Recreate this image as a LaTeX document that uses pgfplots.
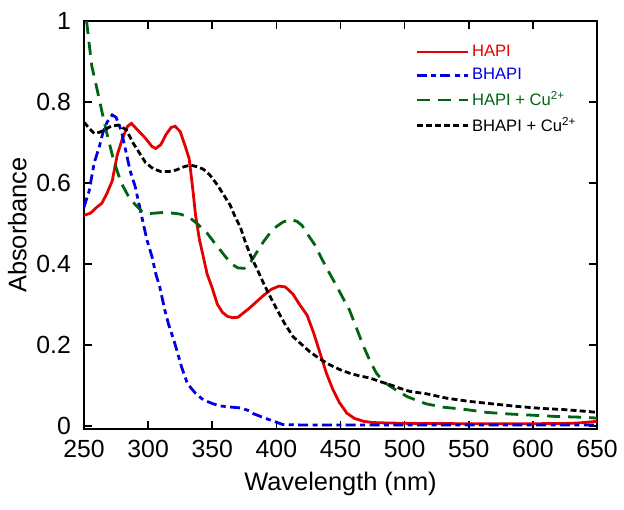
\documentclass[border=0pt]{standalone}
\usepackage{fontspec}
\setmainfont{Liberation Sans}
\usepackage{pgfplots}
\pgfplotsset{compat=1.18}
\definecolor{cred}{RGB}{228,0,0}
\definecolor{cblue}{RGB}{0,0,225}
\definecolor{cgreen}{RGB}{0,100,20}
\begin{document}
\begin{tikzpicture}
\begin{axis}[
  name=ax,
  width=256.5pt, height=204pt, scale only axis,
  xmin=250, xmax=650, ymin=-0.008, ymax=1,
  xtick={250,300,350,400,450,500,550,600,650},
  ytick={0,0.2,0.4,0.6,0.8,1},
  yticklabels={0,0.2,0.4,0.6,0.8,1},
  tick align=inside, major tick length=4pt,
  axis line style={line width=0.8pt},
  every tick/.style={black, line width=0.8pt},
  tick label style={font=\fontsize{12.4}{14}\selectfont},
  /pgf/number format/assume math mode=true,
  xticklabel style={yshift=-2pt},
  yticklabel style={xshift=-3pt},
  xlabel={Wavelength (nm)},
  ylabel={Absorbance},
  label style={font=\fontsize{12.7}{14}\selectfont},
  xlabel style={at={(axis description cs:0.5,0)}, anchor=center, yshift=-27.5pt},
  ylabel style={at={(axis description cs:-0.13,0.5)}, anchor=center},
  legend style={at={(rel axis cs:0.645,0.95)}, anchor=north west, draw=none, fill=none,
    inner sep=0pt, font=\fontsize{8.3}{9}\selectfont, row sep=1.5pt,
    nodes={inner sep=1.5pt}},
  legend cell align=left,
  legend image code/.code={\draw[#1] (0pt,0pt) -- (25.5pt,0pt);},
]
\addplot[cred, line width=1.4pt] coordinates {
(250,0.52)(255,0.525)(260,0.54)(264,0.55)(268,0.575)(272,0.605)(276,0.67)(280,0.71)(284,0.74)(287,0.747)(292,0.73)(298,0.71)(303,0.69)(306,0.685)(310,0.695)(314,0.72)(318,0.737)(321,0.74)(325,0.727)(329,0.69)(332,0.66)(335,0.58)(337,0.52)(340,0.46)(343,0.418)(346,0.375)(350,0.34)(354,0.3)(358,0.28)(362,0.27)(366,0.267)(370,0.268)(374,0.278)(378,0.288)(384,0.305)(390,0.322)(396,0.337)(402,0.345)(407,0.343)(413,0.325)(418,0.3)(424,0.273)(429,0.23)(434,0.18)(439,0.13)(444,0.09)(449,0.058)(455,0.031)(461,0.018)(468,0.011)(475,0.008)(485,0.007)(500,0.006)(550,0.005)(600,0.005)(630,0.006)(640,0.008)(650,0.011)
};
\addlegendentry{\textcolor{cred}{HAPI}}
\addplot[cblue, line width=1.4pt, dash pattern=on 5pt off 2.2pt on 2.5pt off 2.2pt] coordinates {
(250,0.54)(254,0.58)(258,0.65)(262,0.69)(265,0.727)(268,0.75)(272,0.768)(275,0.762)(279,0.73)(283,0.673)(286,0.63)(290,0.59)(295,0.517)(299,0.46)(303,0.418)(306,0.375)(309,0.344)(313,0.286)(316,0.25)(320,0.212)(323,0.18)(326,0.146)(330,0.11)(333,0.095)(337,0.08)(343,0.064)(350,0.055)(356,0.049)(365,0.046)(372,0.044)(378,0.038)(382,0.03)(390,0.02)(399,0.01)(405,0.003)(420,0.002)(500,0.002)(600,0.002)(650,0.002)
};
\addlegendentry{\textcolor{cblue}{BHAPI}}
\addplot[cgreen, line width=1.4pt, dash pattern=on 6.5pt off 4pt] coordinates {
(252,1.0)(256,0.89)(260,0.834)(264,0.776)(268,0.72)(273,0.657)(279,0.6)(285,0.565)(290,0.546)(295,0.53)(300,0.524)(312,0.527)(320,0.525)(325,0.523)(332,0.515)(338,0.5)(346,0.476)(351,0.455)(356,0.435)(361,0.415)(366,0.398)(370,0.39)(375,0.389)(380,0.405)(385,0.43)(390,0.455)(395,0.476)(400,0.492)(405,0.503)(411,0.51)(416,0.505)(420,0.495)(425,0.47)(430,0.447)(435,0.415)(440,0.385)(447,0.345)(452,0.315)(457,0.286)(462,0.245)(468,0.196)(473,0.16)(478,0.13)(484,0.108)(489,0.097)(495,0.085)(502,0.072)(510,0.062)(517,0.054)(530,0.046)(548,0.04)(564,0.033)(582,0.029)(600,0.026)(618,0.023)(639,0.021)(650,0.019)
};
\addlegendentry{\textcolor{cgreen}{HAPI + Cu\textsuperscript{2+}}}
\addplot[black, line width=1.4pt, dash pattern=on 3pt off 1.6pt] coordinates {
(250,0.75)(254,0.735)(258,0.722)(262,0.725)(266,0.731)(271,0.74)(277,0.743)(283,0.731)(288,0.7)(293,0.675)(298,0.65)(304,0.635)(310,0.628)(316,0.628)(322,0.632)(328,0.64)(333,0.644)(338,0.64)(343,0.634)(348,0.62)(354,0.595)(359,0.57)(364,0.545)(368,0.515)(372,0.49)(376,0.452)(380,0.42)(383,0.4)(386,0.38)(390,0.352)(395,0.32)(400,0.29)(406,0.255)(413,0.22)(420,0.2)(426,0.183)(434,0.165)(442,0.15)(450,0.138)(457,0.13)(465,0.123)(473,0.118)(480,0.11)(489,0.101)(496,0.093)(504,0.085)(517,0.079)(533,0.068)(551,0.06)(569,0.054)(587,0.048)(606,0.043)(624,0.04)(644,0.035)(650,0.033)
};
\addlegendentry{BHAPI + Cu\textsuperscript{2+}}
\end{axis}
\pgfresetboundingbox
\useasboundingbox ([shift={(-42pt,-40pt)}]ax.south west) rectangle ([shift={(13.5pt,10.5pt)}]ax.north east);
\end{tikzpicture}
\end{document}
